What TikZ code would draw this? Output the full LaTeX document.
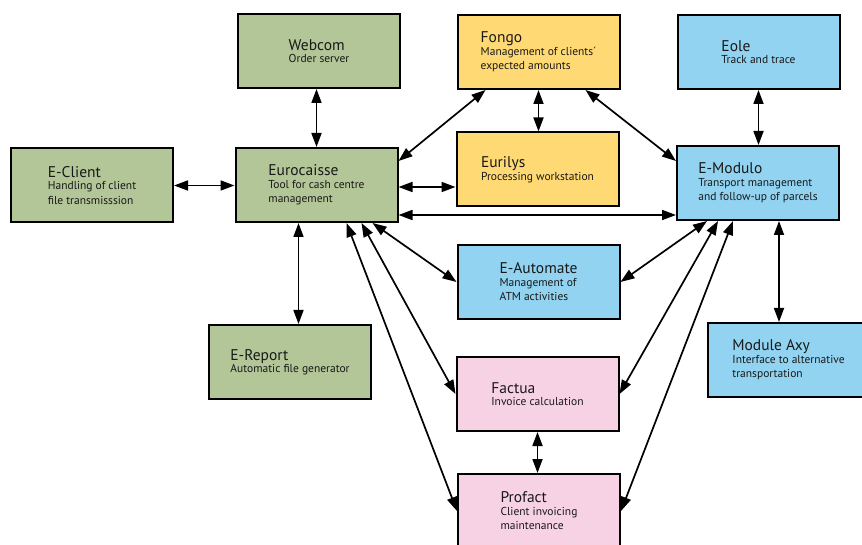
\documentclass[tikz,border=0pt]{standalone}
\usepackage{fontspec}
\setmainfont{PT Sans}
\usetikzlibrary{arrows.meta}
\definecolor{appgreen}{RGB}{178,198,152}
\definecolor{appyellow}{RGB}{255,217,115}
\definecolor{appblue}{RGB}{146,211,241}
\definecolor{apppink}{RGB}{247,210,228}
\newcommand{\apptitle}[1]{{\fontsize{15.5}{14}\selectfont #1}\\[-2pt]}

\begin{document}
\begin{tikzpicture}[x=1pt,y=-1pt,
  app/.style={draw,line width=2pt,minimum width=162pt,minimum height=74pt,inner sep=0pt,
    align=left,font=\fontsize{11.5}{14.5}\selectfont,text=black!90},
  link/.style={{Triangle[length=14pt,width=10pt]}-{Triangle[length=14pt,width=10pt]},line width=1.7pt}]
\clip (0,0) rectangle (862,545);
\node[app,fill=appgreen] (webcom) at (319,51) {\apptitle{Webcom}Order server};
\node[app,fill=appyellow] (fongo) at (538.5,52) {\apptitle{Fongo}Management of clients´\\expected amounts};
\node[app,fill=appblue] (eole) at (758.5,52) {\apptitle{Eole}Track and trace};
\node[app,fill=appgreen] (eclient) at (92,185.5) {\apptitle{E-Client}Handling of client\\file transmisssion};
\node[app,fill=appgreen] (euro) at (316.5,185) {\apptitle{Eurocaisse}Tool for cash centre\\management};
\node[app,fill=appyellow] (eurilys) at (537.5,169.5) {\apptitle{Eurilys}Processing workstation};
\node[app,fill=appblue] (emod) at (758,183) {\apptitle{E-Modulo}Transport management\\and follow-up of parcels};
\node[app,fill=appblue] (eauto) at (538.5,282) {\apptitle{E-Automate}Management of\\ATM activities};
\node[app,fill=appgreen] (ereport) at (290,362) {\apptitle{E-Report}Automatic file generator};
\node[app,fill=appblue] (axy) at (788.5,360) {\apptitle{Module Axy}Interface to alternative\\transportation};
\node[app,fill=apppink] (factua) at (537.5,394) {\apptitle{Factua}Invoice calculation};
\node[app,fill=apppink] (profact) at (539,511) {\apptitle{Profact}Client invoicing\\maintenance};

\draw[link] (euro.north |- webcom.south) -- (euro.north);
\draw[link] (eclient.east) -- (eclient.east -| euro.west);
\draw[link] ([yshift=-2pt]euro.east) -- ([yshift=-2pt]euro.east -| eurilys.west);
\draw[link] ([yshift=-30pt]euro.east) -- ([yshift=-30pt]euro.east -| emod.west);
\draw[link] ([yshift=24pt]euro.east) -- ([xshift=-53pt]fongo.south);
\draw[link] (fongo.south) -- (fongo.south |- eurilys.north);
\draw[link] ([xshift=47pt]fongo.south) -- ([yshift=22pt]emod.west);
\draw[link] (eole.south) -- (eole.south |- emod.north);
\draw[link] ([xshift=-18pt]euro.south) -- ([xshift=-18pt]euro.south |- ereport.north);
\draw[link] ([xshift=56pt]euro.south) -- (eauto.west);
\draw[link] ([xshift=45pt]euro.south) -- (factua.west);
\draw[link] ([xshift=30pt]euro.south) -- (profact.west);
\draw[link] ([xshift=-51pt]emod.south) -- (eauto.east);
\draw[link] ([xshift=-40pt]emod.south) -- (factua.east);
\draw[link] ([xshift=-25pt]emod.south) -- (profact.east);
\draw[link] ([xshift=21pt]emod.south) -- ([xshift=21pt]emod.south |- axy.north);
\draw[link] (factua.south) -- (factua.south |- profact.north);
\end{tikzpicture}
\end{document}
